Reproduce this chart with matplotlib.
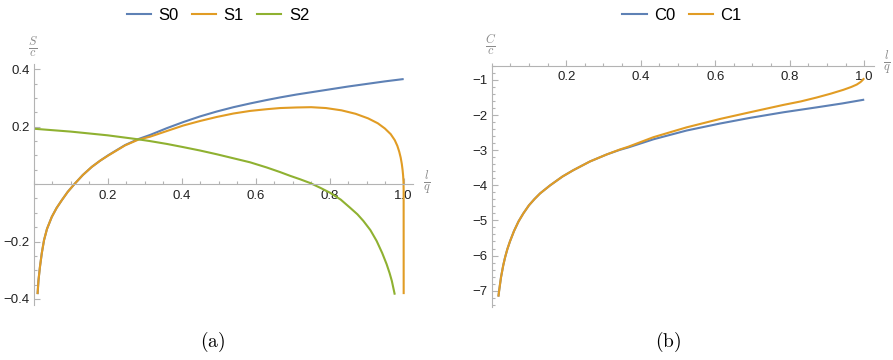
import matplotlib
matplotlib.use("Agg")
import matplotlib.pyplot as plt
from matplotlib.ticker import FixedLocator, MultipleLocator, FuncFormatter
from matplotlib.lines import Line2D

plt.rcParams['font.family'] = ['Liberation Sans', 'DejaVu Sans']
plt.rcParams['mathtext.fontset'] = 'cm'

# ---- panel (a): S / c versus l / q ----
s0_x = [0.0105, 0.013, 0.017, 0.022, 0.028, 0.036, 0.049, 0.062, 0.076, 0.092,
        0.110, 0.133, 0.157, 0.180, 0.202, 0.247, 0.283, 0.314, 0.360, 0.404,
        0.450, 0.495, 0.540, 0.585, 0.630, 0.666, 0.710, 0.750, 0.800, 0.850,
        0.900, 0.950, 1.000]
s0_y = [-0.383, -0.335, -0.288, -0.240, -0.195, -0.156, -0.114, -0.083, -0.056, -0.027,
        0.000, 0.032, 0.060, 0.082, 0.101, 0.136, 0.157, 0.171, 0.195, 0.216,
        0.236, 0.253, 0.268, 0.281, 0.293, 0.302, 0.312, 0.320, 0.330, 0.340,
        0.349, 0.358, 0.366]

s1_x = [0.0105, 0.013, 0.017, 0.022, 0.028, 0.036, 0.049, 0.062, 0.076, 0.092,
        0.110, 0.133, 0.157, 0.180, 0.202, 0.247, 0.283, 0.314, 0.360, 0.404,
        0.450, 0.495, 0.540, 0.585, 0.630, 0.666, 0.710, 0.750, 0.790, 0.832,
        0.870, 0.904, 0.930, 0.949, 0.965, 0.976, 0.983, 0.988, 0.992, 0.995,
        0.997, 0.9985, 0.9995, 0.9999, 1.000]
s1_y = [-0.383, -0.335, -0.288, -0.240, -0.195, -0.156, -0.114, -0.083, -0.056, -0.027,
        0.000, 0.032, 0.060, 0.082, 0.100, 0.135, 0.155, 0.165, 0.185, 0.204,
        0.220, 0.234, 0.246, 0.255, 0.261, 0.265, 0.267, 0.268, 0.265, 0.257,
        0.245, 0.229, 0.212, 0.194, 0.174, 0.153, 0.133, 0.113, 0.092, 0.070,
        0.050, 0.030, 0.008, -0.020, -0.383]

s2_x = [0.000, 0.100, 0.200, 0.283, 0.314, 0.360, 0.404, 0.450, 0.495, 0.540,
        0.585, 0.630, 0.666, 0.693, 0.720, 0.747, 0.775, 0.801, 0.830, 0.855,
        0.875, 0.891, 0.910, 0.927, 0.942, 0.954, 0.962, 0.968, 0.976]
s2_y = [0.193, 0.183, 0.170, 0.156, 0.150, 0.140, 0.129, 0.117, 0.104, 0.090,
        0.076, 0.058, 0.042, 0.029, 0.017, 0.004, -0.013, -0.030, -0.054, -0.082,
        -0.105, -0.128, -0.160, -0.198, -0.240, -0.279, -0.310, -0.337, -0.385]

# ---- panel (b): C / c versus l / q ----
c0_x = [0.018, 0.020, 0.025, 0.031, 0.036, 0.042, 0.049, 0.060, 0.072, 0.085,
        0.100, 0.115, 0.130, 0.157, 0.190, 0.219, 0.264, 0.309, 0.344, 0.367,
        0.434, 0.523, 0.613, 0.693, 0.783, 0.872, 0.940, 1.000]
c0_y = [-7.17, -7.00, -6.62, -6.28, -6.05, -5.82, -5.60, -5.30, -5.03, -4.80,
        -4.57, -4.39, -4.23, -4.00, -3.75, -3.57, -3.32, -3.12, -2.99, -2.92,
        -2.69, -2.44, -2.24, -2.08, -1.92, -1.78, -1.67, -1.56]

c1_x = [0.018, 0.020, 0.025, 0.031, 0.036, 0.042, 0.049, 0.060, 0.072, 0.085,
        0.100, 0.115, 0.130, 0.157, 0.190, 0.219, 0.264, 0.309, 0.344, 0.367,
        0.434, 0.523, 0.613, 0.693, 0.783, 0.830, 0.872, 0.910, 0.944, 0.965,
        0.980, 0.990, 0.995, 1.000]
c1_y = [-7.17, -7.00, -6.62, -6.28, -6.05, -5.82, -5.60, -5.30, -5.03, -4.80,
        -4.57, -4.39, -4.23, -4.00, -3.75, -3.57, -3.32, -3.12, -2.98, -2.90,
        -2.63, -2.35, -2.11, -1.92, -1.71, -1.61, -1.50, -1.39, -1.28, -1.20,
        -1.13, -1.06, -1.01, -0.95]

x_major = [0.2, 0.4, 0.6, 0.8, 1.0]
ya_major = [-0.4, -0.2, 0.2, 0.4]
yb_major = [-1, -2, -3, -4, -5, -6, -7]

BLUE = '#5E81B5'
ORANGE = '#E19C24'
GREEN = '#8FB131'
AXIS = '#b3b3b3'
TICKTXT = '#222222'
LW = 1.5


def minus(v, fmt):
    return (fmt % v).replace('-', '\u2212')


def style_axes(ax):
    for side in ('top', 'right'):
        ax.spines[side].set_visible(False)
    for side in ('left', 'bottom'):
        ax.spines[side].set_color(AXIS)
        ax.spines[side].set_linewidth(0.8)
    ax.tick_params(which='both', direction='in', color=AXIS, width=0.8,
                   labelcolor=TICKTXT, labelsize=9.5)
    ax.tick_params(which='major', length=4)
    ax.tick_params(which='minor', length=2.3)
    ax.xaxis.set_major_locator(FixedLocator(x_major))
    ax.xaxis.set_major_formatter(FuncFormatter(lambda v, p: '%.1f' % v))
    ax.xaxis.set_minor_locator(MultipleLocator(0.05))
    ax.tick_params(axis='x', pad=4)
    ax.tick_params(axis='y', pad=3)


fig = plt.figure(figsize=(8.93, 3.6), dpi=100)

# panel (a)
axA = fig.add_axes([0.0377, 0.1535, 0.4247, 0.670])
axA.plot(s0_x, s0_y, color=BLUE, lw=LW, solid_capstyle='butt', solid_joinstyle='round')
axA.plot(s1_x, s1_y, color=ORANGE, lw=LW, solid_capstyle='butt', solid_joinstyle='round')
axA.plot(s2_x, s2_y, color=GREEN, lw=LW, solid_capstyle='butt', solid_joinstyle='round')
axA.set_xlim(0, 1.025)
axA.set_ylim(-0.42, 0.42)
style_axes(axA)
axA.spines['bottom'].set_position(('data', 0))
axA.yaxis.set_major_locator(FixedLocator(ya_major))
axA.yaxis.set_major_formatter(FuncFormatter(lambda v, p: minus(v, '%.1f')))
axA.yaxis.set_minor_locator(MultipleLocator(0.05))

# panel (b)
axB = fig.add_axes([0.5506, 0.1478, 0.4276, 0.670])
axB.plot(c0_x, c0_y, color=BLUE, lw=LW, solid_capstyle='butt', solid_joinstyle='round')
axB.plot(c1_x, c1_y, color=ORANGE, lw=LW, solid_capstyle='butt', solid_joinstyle='round')
axB.set_xlim(0, 1.025)
axB.set_ylim(-7.46, -0.59)
style_axes(axB)
axB.spines['bottom'].set_position(('data', -0.59))
axB.yaxis.set_major_locator(FixedLocator(yb_major))
axB.yaxis.set_major_formatter(FuncFormatter(lambda v, p: minus(v, '%d')))
axB.yaxis.set_minor_locator(MultipleLocator(0.2))

# axis captions as stacked fractions
lab = dict(ha='center', va='center', color='#8a8a8a', fontsize=12.5)
fig.text(33 / 893, 1 - 47 / 360, r'$\frac{S}{c}$', **lab)
fig.text(427 / 893, 1 - 182 / 360, r'$\frac{l}{q}$', **lab)
fig.text(491 / 893, 1 - 45 / 360, r'$\frac{C}{c}$', **lab)
fig.text(887 / 893, 1 - 62 / 360, r'$\frac{l}{q}$', **lab)

# legends
leg_kw = dict(loc='center', frameon=False, fontsize=12, handlelength=1.45,
              handletextpad=0.45, columnspacing=0.8, borderaxespad=0)
hA = [Line2D([], [], color=c, lw=LW) for c in (BLUE, ORANGE, GREEN)]
fig.legend(hA, ['S0', 'S1', 'S2'], ncol=3,
           bbox_to_anchor=(218 / 893, 1 - 15 / 360), **leg_kw)
hB = [Line2D([], [], color=c, lw=LW) for c in (BLUE, ORANGE)]
fig.legend(hB, ['C0', 'C1'], ncol=2,
           bbox_to_anchor=(682 / 893, 1 - 15 / 360), **leg_kw)

# sub-figure captions
fig.text(213 / 893, 1 - 342 / 360, r'$\mathrm{(a)}$', ha='center', va='center', fontsize=14)
fig.text(668 / 893, 1 - 342 / 360, r'$\mathrm{(b)}$', ha='center', va='center', fontsize=14)

fig.savefig('out.png', dpi=100)
